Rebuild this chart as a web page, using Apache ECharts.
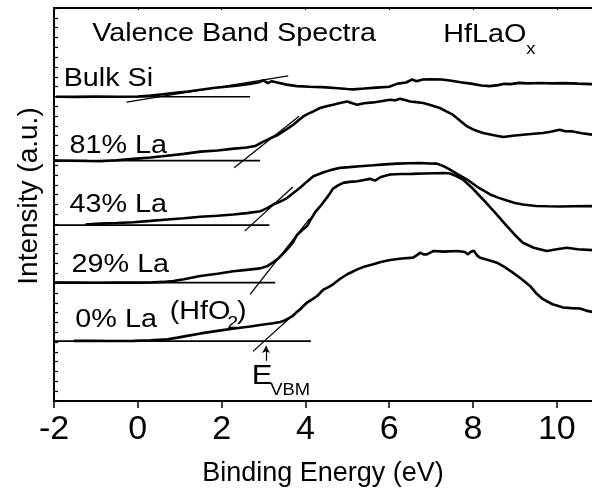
<!DOCTYPE html>
<html>
<head>
<meta charset="utf-8">
<script src="https://cdn.jsdelivr.net/npm/echarts@6/dist/echarts.min.js"></script>
<style>
  html, body { margin: 0; padding: 0; background: #fff; }
  #chart { width: 592px; height: 492px; }
</style>
</head>
<body>
<div id="chart"></div>
<script>
// Binding-energy tick labels
const energyTicks = [-2, 0, 2, 4, 6, 8, 10];

// Valence band spectra, [binding energy (eV), intensity (a.u., offset per sample)]
const bulkSi = [[-1.95,30.97],[-1.5,30.95],[-1.0,30.98],[-0.5,30.96],[0.0,31.0],[0.3,31.08],[0.6,31.22],[0.9,31.38],[1.2,31.5],[1.5,31.68],[1.8,31.85],[2.1,31.98],[2.4,32.12],[2.7,32.3],[2.9,32.45],[3.0,32.65],[3.1,32.35],[3.2,32.55],[3.35,32.4],[3.55,32.2],[3.8,32.05],[4.1,31.98],[4.4,31.95],[4.7,31.85],[5.0,31.75],[5.15,31.72],[5.4,31.8],[5.7,31.9],[6.0,31.98],[6.2,32.3],[6.4,32.42],[6.55,32.72],[6.65,32.55],[6.8,32.72],[7.0,32.75],[7.25,32.72],[7.45,32.62],[7.7,32.45],[7.95,32.3],[8.2,32.12],[8.4,32.05],[8.6,32.15],[8.75,32.28],[8.9,32.25],[9.1,32.38],[9.3,32.33],[9.6,32.36],[9.9,32.33],[10.2,32.35],[10.5,32.3],[10.84,32.25]];

const la81 = [[-2.0,24.47],[-1.6,24.45],[-1.2,24.42],[-0.9,24.4],[-0.5,24.5],[-0.1,24.64],[0.3,24.78],[0.7,24.97],[1.1,25.15],[1.5,25.38],[1.9,25.5],[2.3,25.69],[2.6,25.8],[2.8,25.95],[2.97,26.35],[3.1,26.6],[3.23,26.87],[3.35,27.1],[3.47,27.44],[3.6,27.8],[3.71,28.12],[3.83,28.55],[3.95,28.96],[4.07,29.25],[4.19,29.47],[4.35,29.82],[4.5,30.0],[4.66,30.15],[4.85,30.35],[5.0,30.49],[5.12,30.3],[5.24,30.15],[5.4,30.3],[5.62,30.39],[5.8,30.5],[6.02,30.66],[6.15,30.6],[6.26,30.76],[6.4,30.62],[6.5,30.49],[6.65,30.42],[6.81,30.33],[7.0,30.1],[7.21,29.82],[7.35,29.5],[7.52,29.14],[7.7,28.5],[7.86,27.95],[8.05,27.55],[8.24,27.28],[8.5,27.05],[8.72,26.87],[8.95,27.0],[9.19,27.1],[9.45,27.2],[9.67,27.28],[9.85,27.4],[10.07,27.61],[10.2,27.45],[10.38,27.44],[10.6,27.25],[10.84,27.11]];

const la43 = [[-1.25,17.97],[-0.9,18.05],[-0.5,18.12],[-0.1,18.2],[0.3,18.33],[0.71,18.48],[1.1,18.6],[1.49,18.75],[1.9,18.85],[2.28,18.98],[2.6,19.12],[2.93,19.32],[3.1,19.65],[3.23,20.0],[3.4,20.3],[3.57,20.68],[3.72,21.2],[3.88,21.73],[4.03,22.3],[4.19,22.87],[4.3,23.05],[4.42,23.25],[4.6,23.5],[4.83,23.73],[5.05,23.8],[5.3,23.9],[5.62,23.99],[5.9,24.08],[6.19,24.16],[6.45,24.2],[6.74,24.22],[6.95,24.18],[7.14,24.16],[7.3,23.9],[7.45,23.55],[7.65,23.05],[7.86,22.54],[8.1,21.8],[8.41,21.02],[8.6,20.7],[8.81,20.4],[9.0,20.15],[9.19,20.0],[9.5,19.85],[9.8,19.82],[10.07,19.8],[10.4,19.82],[10.84,19.83]];

const la29 = [[-2.0,12.05],[-1.5,12.05],[-1.0,12.04],[-0.5,12.05],[0.0,12.05],[0.3,12.06],[0.6,12.12],[0.85,12.21],[1.1,12.4],[1.49,12.72],[1.9,12.95],[2.28,13.2],[2.6,13.35],[2.92,13.5],[3.1,13.75],[3.23,14.11],[3.35,14.5],[3.47,15.0],[3.6,15.6],[3.71,16.2],[3.8,16.9],[3.9,17.3],[4.04,17.8],[4.13,18.5],[4.23,19.19],[4.33,19.7],[4.42,20.17],[4.55,20.9],[4.66,21.62],[4.78,21.95],[4.9,22.2],[5.05,22.3],[5.24,22.37],[5.4,22.5],[5.54,22.61],[5.66,22.44],[5.8,22.8],[6.02,23.05],[6.3,23.1],[6.55,23.12],[6.81,23.15],[7.1,23.18],[7.3,23.2],[7.45,23.15],[7.6,22.9],[7.76,22.54],[8.0,21.6],[8.24,20.51],[8.5,19.3],[8.81,17.8],[9.0,16.9],[9.19,16.11],[9.45,15.6],[9.76,15.26],[10.0,15.45],[10.24,15.6],[10.5,15.45],[10.84,15.36]];

const la0 = [[-1.53,6.12],[-1.1,6.12],[-0.6,6.1],[-0.1,6.12],[0.3,6.18],[0.71,6.29],[0.95,6.45],[1.18,6.63],[1.5,6.88],[1.9,7.14],[2.3,7.38],[2.68,7.58],[3.0,7.78],[3.23,7.92],[3.4,8.05],[3.52,8.22],[3.62,8.45],[3.69,8.63],[3.78,9.0],[3.88,9.34],[3.96,9.7],[4.04,10.02],[4.16,10.35],[4.28,10.69],[4.42,11.3],[4.55,11.6],[4.66,11.88],[4.83,12.44],[5.0,12.9],[5.24,13.4],[5.42,13.7],[5.62,13.91],[5.8,14.15],[6.02,14.35],[6.3,14.5],[6.57,14.59],[6.68,14.9],[6.74,15.1],[6.82,14.92],[6.9,14.92],[7.05,15.26],[7.3,15.2],[7.62,15.26],[7.81,15.16],[7.88,14.92],[7.95,15.2],[8.02,15.3],[8.1,14.8],[8.17,14.59],[8.4,14.3],[8.57,14.08],[8.75,13.65],[8.95,13.07],[9.15,12.45],[9.36,11.71],[9.5,11.0],[9.67,10.36],[9.9,9.85],[10.15,9.51],[10.35,9.45],[10.55,9.41],[10.7,9.2],[10.84,9.07]];

// Background level of each spectrum and the energy where its guide line stops
const baselineLevels = [30.96, 24.47, 17.9, 12.05, 6.09];
const baselineEnds = [2.68, 2.92, 3.14, 3.28, 4.13];

// Linear fits to the leading edges
const edgeFits = [
  [[-0.27, 30.43], [3.59, 33.1]],
  [[2.30, 23.73], [3.85, 28.98]],
  [[2.55, 17.29], [3.70, 21.78]],
  [[2.68, 10.86], [4.10, 18.57]],
  [[2.75, 5.05], [4.10, 10.29]]
];

// Valence band maximum of HfO2
const vbmArrow = [[3.06, 4.09], [3.06, 5.61]];

const sampleNames = ['Bulk Si', '81% La', '43% La', '29% La', '0% La'];
const spectra = [bulkSi, la81, la43, la29, la0];

const FONT = '"Liberation Sans", Arial, Helvetica, sans-serif';
const chart = echarts.init(document.getElementById('chart'), null, { renderer: 'canvas' });

const series = [];
spectra.forEach((d, i) => {
  series.push({
    name: sampleNames[i], type: 'line', data: d, showSymbol: false, smooth: false,
    lineStyle: { color: '#000', width: 2.6 }, z: 3
  });
});
baselineLevels.forEach((lv, i) => {
  series.push({
    type: 'line', data: [[-2, lv], [baselineEnds[i], lv]], showSymbol: false,
    lineStyle: { color: '#000', width: 1.6 }, z: 2
  });
});
edgeFits.forEach((seg) => {
  series.push({
    type: 'line', data: seg, showSymbol: false,
    lineStyle: { color: '#000', width: 1.3 }, z: 2
  });
});
series.push({
  type: 'line', data: [], showSymbol: false,
  markLine: {
    silent: true, symbol: ['none', 'arrow'], symbolSize: [6, 7],
    lineStyle: { color: '#000', width: 1.2, type: 'solid' },
    label: { show: false },
    data: [[{ coord: vbmArrow[0] }, { coord: vbmArrow[1] }]]
  }
});

chart.setOption({
  animation: false,
  backgroundColor: '#fff',
  textStyle: { fontFamily: FONT },
  grid: { left: 54, right: 0, top: 8, bottom: 90, containLabel: false },
  xAxis: [{
    type: 'value', min: -2, max: 10.84, interval: 2, position: 'bottom',
    axisLine: { show: true, onZero: false, lineStyle: { color: '#000', width: 2 } },
    axisTick: { show: true, inside: false, length: 7, customValues: energyTicks, lineStyle: { color: '#000', width: 1.5 } },
    axisLabel: { customValues: energyTicks, color: '#000', fontSize: 34, fontFamily: FONT, margin: 12 },
    splitLine: { show: false },
    name: 'Binding Energy (eV)', nameLocation: 'middle', nameGap: 59,
    nameTextStyle: { color: '#000', fontSize: 27, fontFamily: FONT }
  }, {
    type: 'value', min: -2, max: 10.84, interval: 2, position: 'top',
    axisLine: { show: true, onZero: false, lineStyle: { color: '#000', width: 2 } },
    axisTick: { show: true, inside: true, length: 2, customValues: energyTicks, lineStyle: { color: '#000', width: 1 } },
    axisLabel: { show: false },
    splitLine: { show: false }
  }],
  yAxis: {
    type: 'value', min: 0, max: 40, interval: 1, position: 'left',
    axisLine: { show: true, onZero: false, lineStyle: { color: '#000', width: 2 } },
    axisTick: { show: true, inside: true, length: 4, lineStyle: { color: '#000', width: 1.2 } },
    axisLabel: { show: false },
    splitLine: { show: false },
    name: 'Intensity (a.u.)', nameLocation: 'middle', nameGap: 11,
    nameTextStyle: { color: '#000', fontSize: 28, fontFamily: FONT, padding: [0, 0, 0, 17] }
  },
  series: series
});

// Text annotations anchored in data coordinates: [energy, intensity, text, fontSize]
const annotations = [
  [-1.09, 37.34, 'Valence Band Spectra', 25],
  [7.29, 37.21, 'HfLaO', 25],
  [9.27, 35.8, 'x', 16],
  [-1.77, 32.77, sampleNames[0], 25],
  [-1.63, 25.92, sampleNames[1], 25],
  [-1.63, 19.92, sampleNames[2], 25],
  [-1.58, 13.83, sampleNames[3], 25],
  [-1.49, 8.19, sampleNames[4], 25],
  [0.76, 9.0, '(HfO', 25],
  [2.135, 7.92, '2', 17],
  [2.365, 9.0, ')', 25],
  [2.72, 2.46, 'E', 27],
  [3.16, 1.05, 'VBM', 16]
];

const graphic = annotations.map(([e, v, txt, fs]) => {
  const p = chart.convertToPixel({ gridIndex: 0 }, [e, v]);
  return {
    type: 'text', x: p[0], y: p[1], scaleX: 1.15, z: 10,
    style: {
      text: txt, fill: '#000', font: fs + 'px ' + FONT,
      align: 'left', verticalAlign: 'middle',
      textAlign: 'left', textVerticalAlign: 'middle'
    }
  };
});
chart.setOption({ graphic: graphic });
</script>
</body>
</html>
